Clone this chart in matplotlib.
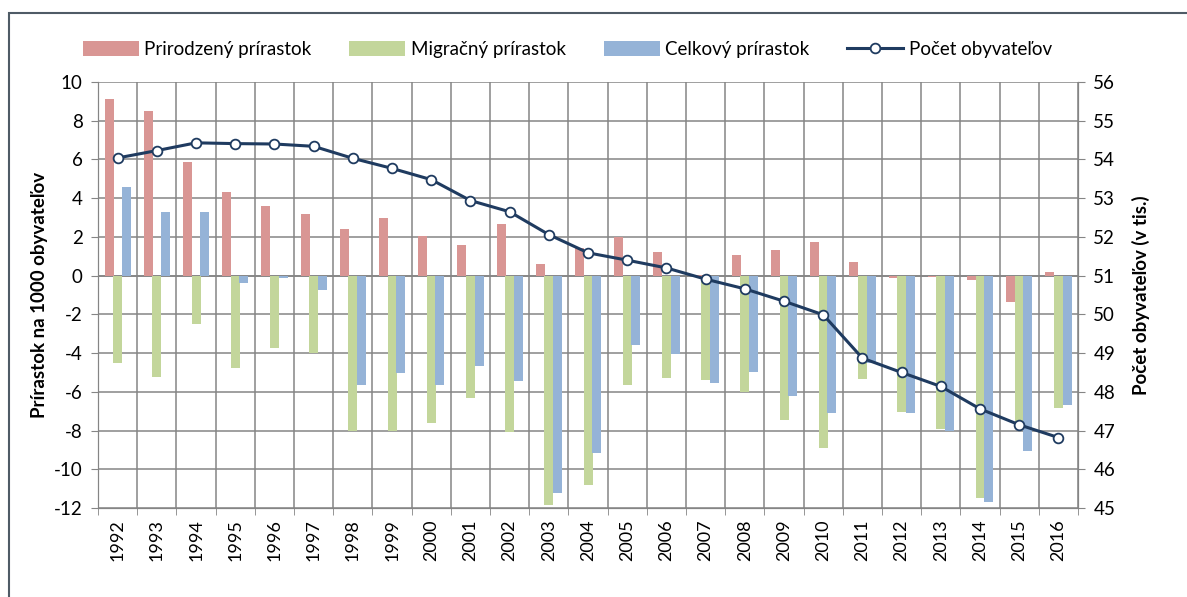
import numpy as np
import matplotlib
matplotlib.use('Agg')
import matplotlib.pyplot as plt
from matplotlib.patches import Rectangle

plt.rcParams['font.family'] = ['Lato', 'DejaVu Sans']
plt.rcParams['axes.unicode_minus'] = False

# --- Data ---
years = [str(y) for y in range(1992, 2017)]
natural = [9.1, 8.5, 5.85, 4.3, 3.6, 3.2, 2.4, 3.0, 2.05, 1.6, 2.65, 0.6, 1.45,
           2.0, 1.2, 0.05, 1.05, 1.3, 1.75, 0.7, -0.1, -0.05, -0.2, -1.35, 0.2]
migration = [-4.5, -5.25, -2.5, -4.75, -3.75, -4.0, -8.0, -8.0, -7.6, -6.3, -8.05,
             -11.85, -10.8, -5.65, -5.3, -5.4, -6.0, -7.45, -8.9, -5.35, -7.05,
             -7.9, -11.5, -7.7, -6.85]
total = [4.6, 3.3, 3.3, -0.4, -0.1, -0.75, -5.65, -5.05, -5.65, -4.65, -5.45,
         -11.2, -9.15, -3.6, -4.05, -5.55, -5.0, -6.2, -7.1, -4.5, -7.1, -8.0,
         -11.7, -9.05, -6.7]
population = [54.04, 54.23, 54.43, 54.41, 54.40, 54.34, 54.03, 53.77, 53.48,
              52.94, 52.65, 52.06, 51.59, 51.40, 51.20, 50.91, 50.66, 50.34,
              49.99, 48.87, 48.50, 48.14, 47.56, 47.15, 46.82]

C_RED = '#D99694'
C_GREEN = '#C3D69B'
C_BLUE = '#95B3D7'
C_LINE = '#1F3B60'
C_GRID = '#858585'

fig = plt.figure(figsize=(11.87, 5.97), dpi=100)
ax = fig.add_axes([0.0826, 0.149, 0.8256, 0.7136])

x = np.arange(len(years))
w = 0.23
ax.bar(x - 0.22, natural, w, color=C_RED, zorder=2, label='Prirodzený prírastok')
ax.bar(x, migration, w, color=C_GREEN, zorder=2, label='Migračný prírastok')
ax.bar(x + 0.22, total, w, color=C_BLUE, zorder=2, label='Celkový prírastok')

ax.set_xlim(-0.5, len(years) - 0.5)
ax.set_ylim(-12, 10)
ax.set_yticks(np.arange(-12, 11, 2))
ax.set_xticks(x)
ax.set_xticklabels(years, rotation=90, fontsize=13)
ax.set_xticks(np.arange(-0.5, len(years), 1), minor=True)
ax.tick_params(axis='x', which='major', length=0, pad=8)
ax.tick_params(axis='x', which='minor', length=5, color=C_GRID)
ax.tick_params(axis='y', length=5, color=C_GRID, labelsize=13.5, pad=6)
ax.grid(True, which='minor', axis='x', color=C_GRID, lw=1.1, zorder=0)
ax.grid(True, which='major', axis='y', color=C_GRID, lw=1.1, zorder=0)
ax.set_axisbelow(True)
ax.axhline(0, color=C_GRID, lw=1.2, zorder=1)
for s in ax.spines.values():
    s.set_color(C_GRID)
ax.spines['top'].set_visible(False)
ax.set_ylabel('Prírastok na 1000 obyvateľov', fontsize=13.5, fontweight='bold', labelpad=4)

ax2 = ax.twinx()
ax2.plot(x, population, color=C_LINE, lw=2.2, marker='o', markersize=7,
         markerfacecolor='white', markeredgecolor=C_LINE, markeredgewidth=1.3,
         zorder=3, label='Počet obyvateľov')
ax2.set_ylim(45, 56)
ax2.set_yticks(np.arange(45, 57, 1))
ax2.tick_params(axis='y', length=5, color=C_GRID, labelsize=13.5, pad=6)
for s in ax2.spines.values():
    s.set_color(C_GRID)
ax2.spines['top'].set_visible(False)
ax2.set_ylabel('Počet obyvateľov (v tis.)', fontsize=13.5, fontweight='bold', labelpad=12)

h1, l1 = ax.get_legend_handles_labels()
h2, l2 = ax2.get_legend_handles_labels()
fig.legend(h1 + h2, l1 + l2, loc='center', bbox_to_anchor=(0.478, 0.917), ncol=4,
           frameon=False, fontsize=13.5, handlelength=3.0, handleheight=0.9,
           columnspacing=2.0, handletextpad=0.3)

# outer chart frame
fig.patches.append(Rectangle((9 / 1187, -0.1), 1.2, 1 - 13 / 597 + 0.1,
                             transform=fig.transFigure, fill=False,
                             edgecolor='#4F5B66', lw=1.5))

fig.savefig('out.png', dpi=100)
